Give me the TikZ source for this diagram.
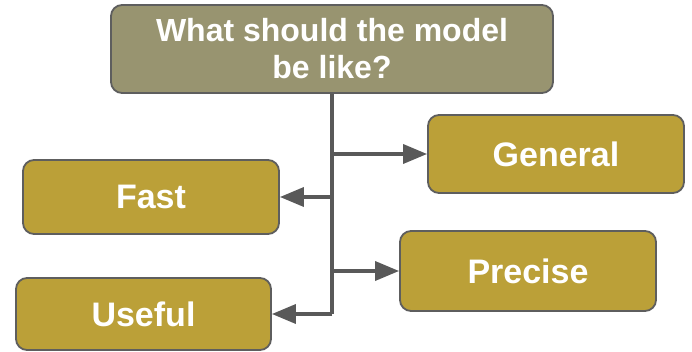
\documentclass[tikz,border=0pt]{standalone}
\usepackage{fontspec}
\setmainfont{Liberation Sans}
\usetikzlibrary{arrows.meta}
\definecolor{headfill}{RGB}{152,148,112}
\definecolor{itemfill}{RGB}{187,160,56}
\definecolor{edgegray}{RGB}{94,94,94}
\definecolor{linkgray}{RGB}{89,89,89}
\tikzset{
  box/.style={rectangle, rounded corners=11pt, draw=edgegray, line width=1.8pt,
    fill=itemfill, text=white, font=\fontsize{34}{40}\selectfont\bfseries,
    inner sep=0pt, align=center},
  headbox/.style={box, fill=headfill, font=\fontsize{32}{37}\selectfont\bfseries},
  link/.style={draw=linkgray, line width=3.5pt,
    -{Triangle[length=24pt, width=19pt]}},
  trunk/.style={draw=linkgray, line width=3.5pt}
}
\begin{document}
\begin{tikzpicture}[x=1pt, y=-1pt]
  \useasboundingbox (0,0) rectangle (692,352);
  % question box and the four answers
  \node[headbox, minimum width=442pt, minimum height=88pt] (head) at (332,49)
    {What should the model\\be like?};
  \node[box, minimum width=256pt, minimum height=78pt] (general) at (556,154) {General};
  \node[box, minimum width=256pt, minimum height=74pt] (fast) at (151,197) {Fast};
  \node[box, minimum width=256pt, minimum height=80pt] (precise) at (528,271) {Precise};
  \node[box, minimum width=255pt, minimum height=72pt] (useful) at (143.5,314) {Useful};
  % vertical spine with the branches off it
  \coordinate (spine) at (332,0);
  \draw[trunk] (head.south) -- (spine |- useful.east);
  \draw[link] (spine |- useful.east) -- (useful.east);
  \draw[link] (spine |- general.west) -- (general.west);
  \draw[link] (spine |- fast.east) -- (fast.east);
  \draw[link] (spine |- precise.west) -- (precise.west);
\end{tikzpicture}
\end{document}
